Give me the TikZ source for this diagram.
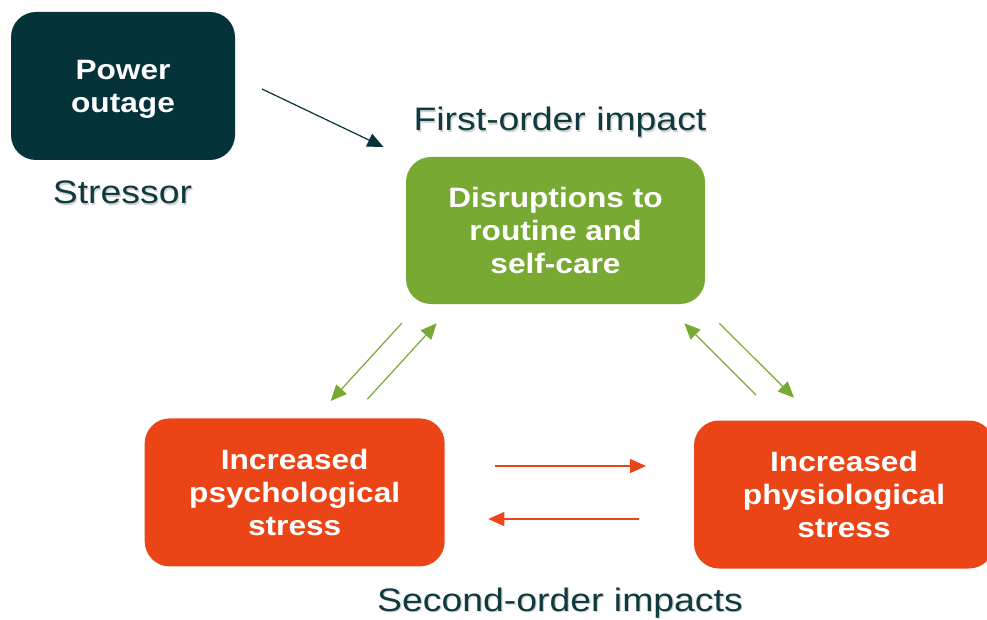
\documentclass[tikz,border=0pt]{standalone}
\usepackage{fontspec}
\usetikzlibrary{arrows.meta}
\setmainfont{Liberation Sans}
\newfontfamily\boxfont[FakeStretch=1.13]{Liberation Sans}
\newfontfamily\labelfont[FakeStretch=1.15]{Liberation Sans}

\definecolor{stressteal}{HTML}{04333A}
\definecolor{labelteal}{HTML}{0E3A40}
\definecolor{impactgreen}{HTML}{78A933}
\definecolor{impactred}{HTML}{EB4517}

\tikzset{
  card/.style={rounded corners=25pt, inner sep=0pt, minimum height=148pt,
    text=white, align=center,
    font=\boxfont\bfseries\fontsize{28}{33}\selectfont},
  caption/.style={anchor=base, text=labelteal, inner sep=0pt,
    font=\labelfont\fontsize{32.5}{38}\selectfont},
  captionshadow/.style={caption, text=black, opacity=0.18},
  link/.style={line width=1.2pt, -{Triangle[length=16pt,width=14pt]}},
}

\begin{document}
\begin{tikzpicture}[x=1pt, y=-1pt]
  \clip (0,0) rectangle (987,620);
  \useasboundingbox (0,0) rectangle (987,620);

  % boxes
  \node[card, fill=stressteal, minimum width=224pt, text depth=0pt] (outage) at (123,86)
    {Power\\outage};
  \node[card, fill=impactgreen, minimum width=299pt, minimum height=147pt] (routine) at (555.5,230.5)
    {Disruptions to\\routine and\\self-care};
  \node[card, fill=impactred, minimum width=300pt] (psych) at (294.7,492.4)
    {Increased\\psychological\\stress};
  \node[card, fill=impactred, minimum width=300pt] (physio) at (844,494.5)
    {Increased\\physiological\\stress};

  % captions, with a faint drop shadow
  \foreach \t/\px/\py in {Stressor/122.5/204, First-order impact/560/130.5, Second-order impacts/560/611}{
    \node[captionshadow] at (\px+1.2,\py+1.6) {\t};
  }
  \node[caption] (stressor) at (122.5,204) {Stressor};
  \node[caption] (first) at (560,130.5) {First-order impact};
  \node[caption] (second) at (560,611) {Second-order impacts};

  % connector end points
  \coordinate (s1) at (262,89);   \coordinate (s2) at (383.5,147);
  \coordinate (a1) at (401.7,323.3); \coordinate (a2) at (330.7,401);
  \coordinate (b1) at (367.3,399.3); \coordinate (b2) at (436.7,323.3);
  \coordinate (c1) at (756,395);   \coordinate (c2) at (684.3,323.3);
  \coordinate (d1) at (719.3,323.3); \coordinate (d2) at (794,397.7);
  \coordinate (e1) at (495,466);   \coordinate (e2) at (646,466);
  \coordinate (f1) at (639,519);   \coordinate (f2) at (488.3,519);

  % connectors
  \draw[link, stressteal] (s1) -- (s2);
  \draw[link, impactgreen] (a1) -- (a2);
  \draw[link, impactgreen] (b1) -- (b2);
  \draw[link, impactgreen] (c1) -- (c2);
  \draw[link, impactgreen] (d1) -- (d2);
  \draw[link, impactred] (e1) -- (e2);
  \draw[link, impactred] (f1) -- (f2);
\end{tikzpicture}
\end{document}
